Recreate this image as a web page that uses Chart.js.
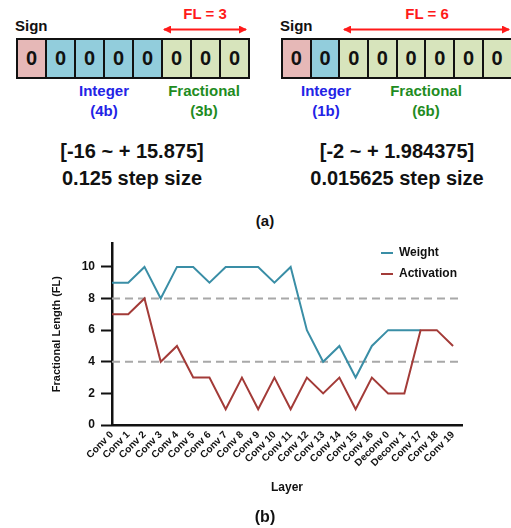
<!DOCTYPE html>
<html>
<head>
<meta charset="utf-8">
<script src="https://cdn.jsdelivr.net/npm/chart.js@4.4.1/dist/chart.umd.min.js"></script>
<style>
    body { margin: 0; background: #fff; font-family: "Liberation Sans", Arial, sans-serif; color: #111; }
    #page { position: relative; width: 511px; height: 528px; overflow: hidden; }
    .abs { position: absolute; white-space: nowrap; font-weight: bold; }
    .ctr { transform: translate(-50%, -50%); text-align: center; }
    .bits { position: absolute; display: flex; }
    .bit { box-sizing: border-box; height: 41px; border: 2px solid #111; margin-right: -2px;
           display: flex; align-items: center; justify-content: center; font-weight: bold; font-size: 20px; }
    .sign { background: #e6b8b7; }
    .int { background: #92cddc; }
    .frac { background: #d7e4bc; }
    .blue { color: #2323e6; }
    .green { color: #1f8c1f; }
    .red { color: #ff1a1a; }
    #chartBox { position: absolute; left: 0; top: 230px; width: 511px; height: 298px; }
    .leg { position: absolute; font-weight: bold; font-size: 12px; }
    .leg i { position: absolute; left: -18px; top: 7px; width: 12px; height: 2px; }
</style>
</head>
<body>
<div id="page">
    <!-- (a) fixed point formats -->
    <svg class="abs" style="left:0;top:0" width="511" height="40">
        <defs>
            <marker id="ah" markerWidth="8" markerHeight="8" refX="7" refY="4" orient="auto-start-reverse" markerUnits="userSpaceOnUse">
                <path d="M0,0 L8,4 L0,8 z" fill="#ff1a1a"/>
            </marker>
        </defs>
        <line x1="164" y1="29.5" x2="246" y2="29.5" stroke="#ff1a1a" stroke-width="2" marker-start="url(#ah)" marker-end="url(#ah)"/>
        <line x1="344" y1="29.5" x2="509" y2="29.5" stroke="#ff1a1a" stroke-width="2" marker-start="url(#ah)" marker-end="url(#ah)"/>
    </svg>

    <div class="abs" style="left:15px;top:17px;font-size:15px">Sign</div>
    <div class="abs ctr red" style="left:205px;top:13px;font-size:15px">FL = 3</div>
    <div class="bits" id="bitsA" style="left:16px;top:38px"></div>
    <div class="abs ctr blue" style="left:104px;top:101px;font-size:15px;line-height:20px">Integer<br>(4b)</div>
    <div class="abs ctr green" style="left:204px;top:101px;font-size:15px;line-height:20px">Fractional<br>(3b)</div>
    <div class="abs ctr" style="left:132px;top:165px;font-size:20px;line-height:27px">[-16 ~ + 15.875]<br>0.125 step size</div>

    <div class="abs" style="left:280px;top:17px;font-size:15px">Sign</div>
    <div class="abs ctr red" style="left:427px;top:13px;font-size:15px">FL = 6</div>
    <div class="bits" id="bitsB" style="left:281px;top:38px"></div>
    <div class="abs ctr blue" style="left:326px;top:101px;font-size:15px;line-height:20px">Integer<br>(1b)</div>
    <div class="abs ctr green" style="left:426px;top:101px;font-size:15px;line-height:20px">Fractional<br>(6b)</div>
    <div class="abs ctr" style="left:397px;top:165px;font-size:20px;line-height:27px">[-2 ~ + 1.984375]<br>0.015625 step size</div>

    <div class="abs ctr" style="left:265px;top:220px;font-size:15px">(a)</div>

    <!-- (b) fractional length per layer -->
    <div id="chartBox"><canvas id="flChart"></canvas></div>
    <div class="leg" style="left:399px;top:245px"><i style="background:#3a8ea6"></i>Weight</div>
    <div class="leg" style="left:399px;top:266px"><i style="background:#a33b38"></i>Activation</div>
    <div class="abs ctr" style="left:265px;top:517px;font-size:16px">(b)</div>
</div>

<script>
// ═══════════════ DATA ═══════════════

const layers = ['Conv 0', 'Conv 1', 'Conv 2', 'Conv 3', 'Conv 4', 'Conv 5', 'Conv 6', 'Conv 7',
    'Conv 8', 'Conv 9', 'Conv 10', 'Conv 11', 'Conv 12', 'Conv 13', 'Conv 14', 'Conv 15',
    'Conv 16', 'Deconv 0', 'Deconv 1', 'Conv 17', 'Conv 18', 'Conv 19'];
const weightFL = [9, 9, 10, 8, 10, 10, 9, 10, 10, 10, 9, 10, 6, 4, 5, 3, 5, 6, 6, 6, null, null];
const activationFL = [7, 7, 8, 4, 5, 3, 3, 1, 3, 1, 3, 1, 3, 2, 3, 1, 3, 2, 2, 6, 6, 5];
const refLevels = [8, 4];
const yTicks = [0, 2, 4, 6, 8, 10];

// bit layouts for the two formats in (a)
const formatA = ['sign', 'int', 'int', 'int', 'int', 'frac', 'frac', 'frac'];
const formatB = ['sign', 'int', 'frac', 'frac', 'frac', 'frac', 'frac', 'frac'];

function buildBits(id, kinds, w) {
    const el = document.getElementById(id);
    kinds.forEach(k => {
        const d = document.createElement('div');
        d.className = 'bit ' + k;
        d.style.width = w + 'px';
        d.textContent = '0';
        el.appendChild(d);
    });
}
buildBits('bitsA', formatA, 31);
buildBits('bitsB', formatB, 30.7);

// ═══════════════ CHART ═══════════════

// dashed reference lines at FL = 8 and FL = 4
const refLinePlugin = {
    id: 'refLines',
    beforeDatasetsDraw(chart) {
        const { ctx, chartArea, scales } = chart;
        ctx.save();
        ctx.strokeStyle = '#a8a8a8';
        ctx.lineWidth = 2;
        ctx.setLineDash([8, 5]);
        refLevels.forEach(v => {
            const y = scales.y.getPixelForValue(v);
            ctx.beginPath();
            ctx.moveTo(chartArea.left, y);
            ctx.lineTo(chartArea.right, y);
            ctx.stroke();
        });
        ctx.restore();
    }
};

const toXY = arr => arr.map((v, i) => ({ x: i, y: v }));
const boldFont = size => ({ family: '"Liberation Sans", Arial, sans-serif', weight: 'bold', size });

new Chart(document.getElementById('flChart').getContext('2d'), {
    type: 'line',
    data: {
        datasets: [
            { label: 'Weight', data: toXY(weightFL), borderColor: '#3a8ea6', borderWidth: 2,
              pointRadius: 0, tension: 0, order: 1 },
            { label: 'Activation', data: toXY(activationFL), borderColor: '#a33b38', borderWidth: 2,
              pointRadius: 0, tension: 0, order: 0 }
        ]
    },
    options: {
        responsive: true,
        maintainAspectRatio: false,
        animation: false,
        layout: { padding: { left: 0, right: 49, top: 12, bottom: 0 } },
        plugins: { legend: { display: false }, tooltip: { enabled: false } },
        scales: {
            x: {
                type: 'linear',
                min: 0,
                max: 21.55,
                afterBuildTicks: s => { s.ticks = layers.map((_, i) => ({ value: i })); },
                afterFit: s => { s.height = 103; },
                grid: { display: false, drawTicks: false },
                border: { display: true, color: '#111', width: 2.5 },
                ticks: {
                    autoSkip: false,
                    minRotation: 45,
                    maxRotation: 45,
                    padding: 4,
                    color: '#111',
                    font: boldFont(10),
                    callback: v => layers[v]
                },
                title: { display: true, text: 'Layer', color: '#111', font: boldFont(12),
                         padding: { top: 0, bottom: 33 } }
            },
            y: {
                min: 0,
                max: 11.5,
                afterBuildTicks: s => { s.ticks = yTicks.map(v => ({ value: v })); },
                afterFit: s => { s.width = 112; },
                grid: { display: true, drawOnChartArea: false, drawTicks: true, tickLength: 11,
                        tickWidth: 2, tickColor: '#111' },
                border: { display: true, color: '#111', width: 2.5 },
                ticks: { padding: 6, color: '#111', font: boldFont(12) },
                title: { display: true, text: 'Fractional Length (FL)', color: '#111', font: boldFont(11),
                         padding: { top: 50, bottom: 0 } }
            }
        }
    },
    plugins: [refLinePlugin]
});
</script>
</body>
</html>
